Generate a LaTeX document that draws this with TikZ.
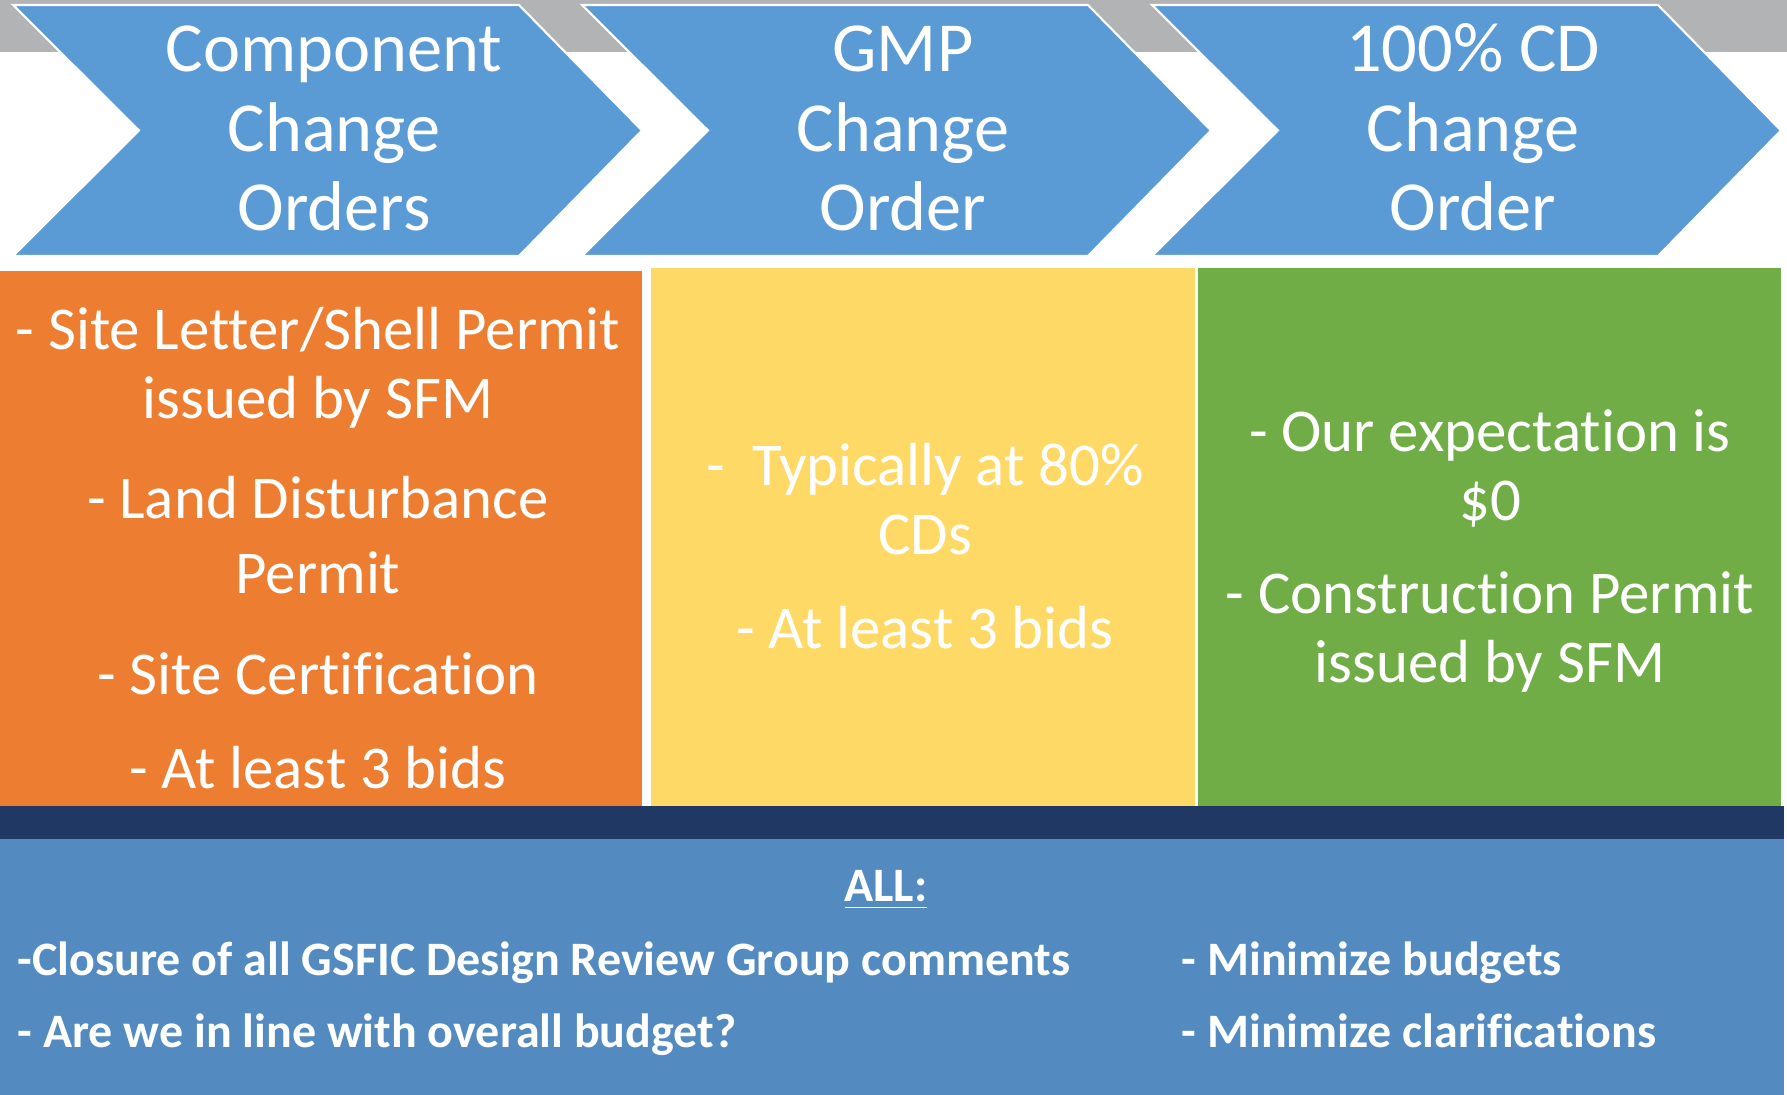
\documentclass[tikz,border=0pt]{standalone}
\usepackage{fontspec}
\setmainfont{Carlito}[Ligatures=NoCommon]

\definecolor{chevblue}{HTML}{5B9BD5}
\definecolor{bandgray}{HTML}{B2B3B5}
\definecolor{compfill}{HTML}{ED7D31}
\definecolor{gmpfill}{HTML}{FFD966}
\definecolor{cdfill}{HTML}{70AD47}
\definecolor{barnavy}{HTML}{203864}
\definecolor{allblue}{HTML}{538BC1}

\begin{document}
\begin{tikzpicture}[x=0.01cm, y=-0.01cm,
    chev/.style={fill=chevblue, draw=white, line width=0.6pt, line join=miter},
    chevtitle/.style={text=white, text width=5cm, align=flush center, anchor=base, inner sep=0pt, font=\fontsize{20}{22.5}\selectfont},
    panel/.style={rectangle, anchor=north west, inner sep=0pt, outer sep=0pt},
    boxtext/.style={text=white, align=flush center, anchor=base, inner sep=0pt, font=\fontsize{17.3}{19.6}\selectfont},
    allnote/.style={text=white, anchor=base west, inner sep=0pt, font=\bfseries\fontsize{13.65}{16}\selectfont}]

    \useasboundingbox (0,0) rectangle (1787,1095);

    % Grey band behind the chevrons
    \fill[bandgray] (0,0) rectangle (1787,52);

    % Chevrons with their titles
    \foreach \lx/\name/\txt in {13/comp/{Component\\Change\\Orders}, 582/gmp/{GMP\\Change\\Order}, 1152/cd/{100\% CD\\Change\\Order}} {
        \draw[chev] (\lx,5) -- ++(506,0) -- ++(123,125.5) -- ++(-123,125.5) -- ++(-506,0) -- ++(126,-125.5) -- cycle;
        \node[chevtitle] (\name-title) at (\lx+321,72) {\txt};
    }

    % Coloured boxes under the chevrons
    \node[panel, fill=compfill, minimum width=6.42cm, minimum height=5.35cm] (compbox) at (0,271) {};
    \node[panel, fill=gmpfill, minimum width=5.44cm, minimum height=5.38cm] (gmpbox) at (651,268) {};
    \node[panel, fill=cdfill, minimum width=5.83cm, minimum height=5.38cm] (cdbox) at (1198,268) {};

    % Box texts
    \node[boxtext, text width=6.4cm] (comptext) at (318,350) {- Site Letter/Shell Permit\\issued by SFM\\[8.8pt]- Land Disturbance\\[1.7pt]Permit\\[9.1pt]- Site Certification\\[7.1pt]- At least 3 bids};
    \node[boxtext, text width=5.4cm] (gmptext) at (925,486) {-~~Typically at 80\%\\CDs\\[7.1pt]- At least 3 bids};
    \node[boxtext, text width=5.8cm] (cdtext) at (1490,452) {- Our expectation is\\\$0\\[6.8pt]- Construction Permit\\issued by SFM};

    % Bar and the common panel
    \node[panel, fill=barnavy, minimum width=17.83cm, minimum height=0.33cm] (bar) at (0,806) {};
    \node[panel, fill=allblue, minimum width=17.83cm, minimum height=2.56cm] (allbox) at (0,839) {};

    \node[allnote, anchor=base] (allhead) at (886,902) {\underline{ALL:}};
    \node[allnote] (closure) at (17,976) {-Closure of all GSFIC Design Review Group comments};
    \node[allnote] (budget) at (17,1048) {- Are we in line with overall budget?};
    \node[allnote] (minbudget) at (1181,976) {- Minimize budgets};
    \node[allnote] (minclar) at (1181,1048) {- Minimize clarifications};
\end{tikzpicture}
\end{document}
